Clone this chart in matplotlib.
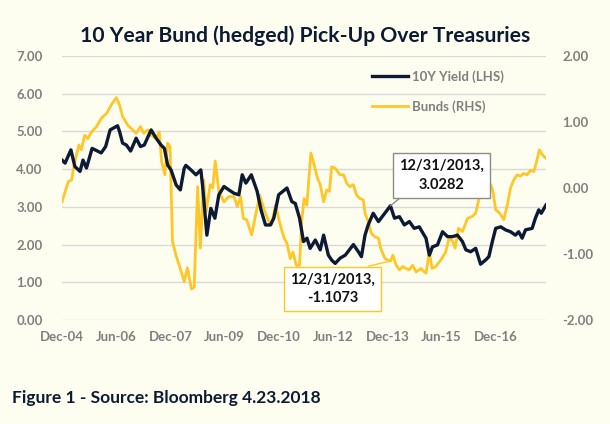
import matplotlib
matplotlib.use('Agg')
import matplotlib.pyplot as plt
import matplotlib.dates as mdates
import pandas as pd

# 10Y Treasury yield (LHS)
yield_dates = ['2004-12-01', '2005-01-01', '2005-03-01', '2005-04-10', '2005-06-01', '2005-07-01',
               '2005-08-05', '2005-10-01', '2006-01-01', '2006-02-15', '2006-04-01', '2006-06-15',
               '2006-07-05', '2006-08-05', '2006-09-12', '2006-10-25', '2006-12-20', '2007-02-01',
               '2007-03-12', '2007-05-20', '2007-07-10', '2007-08-28', '2007-10-01', '2007-11-03',
               '2007-12-07', '2008-01-28', '2008-03-10', '2008-04-18', '2008-05-05', '2008-06-25',
               '2008-08-15', '2008-10-03', '2008-10-20', '2008-12-03', '2009-01-12', '2009-02-22',
               '2009-04-03', '2009-05-25', '2009-07-13', '2009-09-03', '2009-10-22', '2009-11-25',
               '2010-01-01', '2010-02-25', '2010-04-25', '2010-06-03', '2010-07-18', '2010-09-06',
               '2010-10-10', '2010-11-28', '2011-02-20', '2011-04-10', '2011-05-15', '2011-06-27',
               '2011-08-06', '2011-09-10', '2011-10-12', '2011-12-03', '2012-01-22', '2012-02-25',
               '2012-04-13', '2012-05-16', '2012-06-21', '2012-08-10', '2012-10-01', '2012-12-22',
               '2013-02-10', '2013-03-13', '2013-04-18', '2013-05-20', '2013-07-10', '2013-09-01',
               '2013-12-31', '2014-02-10', '2014-04-01', '2014-05-20', '2014-07-10', '2014-08-28',
               '2014-10-18', '2014-12-06', '2014-12-25', '2015-01-28', '2015-03-01', '2015-04-20',
               '2015-06-10', '2015-07-31', '2015-09-18', '2015-11-08', '2015-12-28', '2016-02-01',
               '2016-03-20', '2016-05-10', '2016-06-28', '2016-08-18', '2016-09-20', '2016-10-25',
               '2016-11-28', '2017-01-18', '2017-03-07', '2017-04-27', '2017-06-15', '2017-07-18',
               '2017-08-22', '2017-09-25', '2017-12-01', '2018-01-03', '2018-02-06', '2018-03-03',
               '2018-04-20']
yield_vals = [4.24, 4.16, 4.51, 4.07, 3.94, 4.24,
              4.03, 4.55, 4.43, 4.60, 5.04, 5.15,
              5.00, 4.69, 4.64, 4.48, 4.82, 4.60,
              4.64, 5.04, 4.82, 4.64, 4.55, 4.11,
              3.98, 3.58, 3.45, 4.02, 4.10, 3.98,
              3.85, 3.98, 3.58, 2.25, 2.96, 2.70,
              3.32, 3.54, 3.45, 3.36, 3.32, 3.85,
              3.63, 3.85, 3.41, 2.92, 2.52, 2.52,
              2.70, 3.32, 3.50, 3.14, 3.09, 2.70,
              2.08, 2.17, 1.90, 2.12, 1.86, 2.25,
              1.72, 1.59, 1.50, 1.64, 1.72, 2.00,
              1.81, 1.68, 2.25, 2.52, 2.83, 2.61,
              3.0282, 2.70, 2.74, 2.52, 2.61, 2.43,
              2.47, 2.25, 2.17, 1.72, 1.94, 1.99,
              2.34, 2.21, 2.21, 2.25, 2.08, 1.86,
              1.81, 1.90, 1.48, 1.59, 1.68, 2.08,
              2.43, 2.47, 2.39, 2.34, 2.25, 2.34,
              2.17, 2.39, 2.43, 2.70, 2.92, 2.83,
              3.05]

# hedged Bund pick-up (RHS)
bund_dates = ['2004-12-01', '2005-01-01', '2005-02-03', '2005-03-07', '2005-04-10', '2005-05-20',
              '2005-06-15', '2005-07-18', '2005-08-20', '2005-09-25', '2005-11-15', '2006-01-03',
              '2006-02-25', '2006-04-12', '2006-06-03', '2006-07-05', '2006-08-06', '2006-09-27',
              '2006-11-15', '2006-12-20', '2007-02-02', '2007-03-06', '2007-04-15', '2007-05-18',
              '2007-07-08', '2007-08-10', '2007-09-03', '2007-10-06', '2007-11-02', '2007-11-27',
              '2007-12-22', '2008-01-26', '2008-02-28', '2008-04-18', '2008-05-20', '2008-07-01',
              '2008-07-28', '2008-09-01', '2008-09-28', '2008-11-01', '2008-11-25', '2009-01-06',
              '2009-02-01', '2009-02-25', '2009-04-04', '2009-05-25', '2009-07-13', '2009-09-03',
              '2009-10-06', '2009-11-09', '2009-12-06', '2010-01-09', '2010-02-28', '2010-04-09',
              '2010-05-21', '2010-07-01', '2010-08-13', '2010-09-16', '2010-10-28', '2010-12-09',
              '2011-01-18', '2011-02-20', '2011-03-25', '2011-04-21', '2011-05-25', '2011-06-27',
              '2011-07-19', '2011-08-12', '2011-09-09', '2011-10-19', '2011-11-22', '2011-12-25',
              '2012-01-22', '2012-02-25', '2012-03-28', '2012-04-24', '2012-05-16', '2012-06-21',
              '2012-08-10', '2012-09-13', '2012-10-16', '2012-11-18', '2012-12-21', '2013-01-24',
              '2013-02-27', '2013-04-01', '2013-04-18', '2013-05-20', '2013-06-22', '2013-07-27',
              '2013-09-01', '2013-09-22', '2013-11-06', '2013-12-31', '2014-01-25', '2014-02-27',
              '2014-04-01', '2014-05-04', '2014-06-06', '2014-07-09', '2014-08-12', '2014-09-15',
              '2014-11-05', '2014-12-07', '2014-12-25', '2015-01-28', '2015-02-24', '2015-04-03',
              '2015-05-24', '2015-07-12', '2015-08-15', '2015-09-18', '2015-10-15', '2015-11-18',
              '2015-12-28', '2016-02-18', '2016-04-06', '2016-05-10', '2016-06-28', '2016-08-01',
              '2016-09-06', '2016-10-09', '2016-11-01', '2016-11-28', '2017-01-07', '2017-02-18',
              '2017-03-25', '2017-04-27', '2017-05-28', '2017-07-03', '2017-08-05', '2017-09-06',
              '2017-10-12', '2017-11-15', '2017-12-18', '2018-01-10', '2018-02-12', '2018-03-15',
              '2018-04-20']
bund_vals = [-0.21, -0.06, 0.10, 0.12, 0.40, 0.65,
             0.58, 0.80, 0.75, 0.85, 0.93, 1.06,
             1.13, 1.26, 1.37, 1.26, 1.08, 0.95,
             0.88, 0.83, 0.93, 0.83, 0.88, 0.80,
             0.75, 0.85, 0.40, 0.20, 0.68, 0.63,
             -0.81, -1.02, -1.17, -1.42, -1.21, -1.53,
             -1.50, 0.02, -0.91, 0.12, -0.36, 0.05,
             0.00, 0.41, -0.06, -0.21, -0.13, -0.13,
             -0.28, -0.13, -0.46, -0.48, -0.71, -0.41,
             -0.11, -0.31, -0.48, -0.56, -0.26, -0.53,
             -0.74, -0.84, -1.07, -0.97, -1.17, -1.17,
             -0.50, -0.16, -0.26, 0.53, 0.35, 0.15,
             0.05, -0.21, -0.03, -0.05, 0.32, 0.30,
             0.20, 0.20, 0.07, 0.02, 0.05, -0.11,
             -0.16, -0.18, -0.38, -0.51, -0.69, -0.74,
             -0.76, -0.91, -1.07, -1.1073, -1.02, -1.17,
             -1.24, -1.19, -1.22, -1.24, -1.17, -1.27,
             -1.22, -1.27, -1.29, -0.97, -1.22, -1.19,
             -1.09, -0.97, -0.76, -0.80, -0.91, -0.61,
             -0.66, -0.46, -0.43, -0.38, -0.06, 0.05,
             0.07, 0.05, -0.06, -0.33, -0.38, -0.48,
             -0.26, 0.00, 0.12, 0.20, 0.18, 0.22,
             0.20, 0.27, 0.25, 0.37, 0.58, 0.50,
             0.45]

tick_dates = ['2004-12-01', '2006-06-01', '2007-12-01', '2009-06-01', '2010-12-01',
              '2012-06-01', '2013-12-01', '2015-06-01', '2016-12-01']

navy = '#0d1a33'
gold = '#ffc627'
grey = '#7f7f7f'
bg = '#fefef0'
plt.rcParams['font.family'] = ['Lato', 'DejaVu Sans']

yd = pd.to_datetime(yield_dates)
bd = pd.to_datetime(bund_dates)

fig = plt.figure(figsize=(6.1, 4.24), dpi=100, facecolor=bg)
ax = fig.add_axes([62/610, 1-320/424, (546-62)/610, (320-56)/424])
ax2 = ax.twinx()

l1, = ax.plot(yd, yield_vals, color=navy, lw=2.4, label='10Y Yield (LHS)', zorder=3)
l2, = ax2.plot(bd, bund_vals, color=gold, lw=2.0, label='Bunds (RHS)', zorder=2)
# black line above the yellow one
ax.set_zorder(ax2.get_zorder()+1)
ax.patch.set_visible(False)
ax2.patch.set_facecolor(bg)

ax.set_ylim(0, 7)
ax2.set_ylim(-2, 2)
ax.set_xlim(pd.Timestamp('2004-12-01'), pd.Timestamp('2018-04-20'))
ax.set_yticks(range(0, 8))
ax.set_yticklabels(['%.2f' % v for v in range(0, 8)])
ax2.set_yticks([-2, -1, 0, 1, 2])
ax2.set_yticklabels(['%.2f' % v for v in [-2, -1, 0, 1, 2]])
ax.set_xticks(pd.to_datetime(tick_dates))
ax.xaxis.set_major_formatter(mdates.DateFormatter('%b-%y'))

for a in (ax, ax2):
    for s in a.spines.values():
        s.set_visible(False)
    a.tick_params(length=0, labelsize=9.5, colors=grey)
    for t in a.get_xticklabels() + a.get_yticklabels():
        t.set_fontweight('bold')
ax.tick_params(axis='y', pad=14)
ax2.tick_params(axis='y', pad=12)
ax.tick_params(axis='x', pad=8)
# gridlines (left-axis steps) drawn on the back axes
for v in range(0, 8):
    ax2.axhline(-2 + v*4/7, color='#d9d9d9', lw=1, zorder=0)

leg = ax.legend(handles=[l1, l2], loc='upper left', bbox_to_anchor=(0.615, 0.99), frameon=False,
                fontsize=9.5, labelspacing=1.3, handlelength=2.8, handletextpad=0.25)
for t in leg.get_texts():
    t.set_color(grey)
    t.set_fontweight('bold')

ax.annotate('12/31/2013,\n3.0282', xy=(pd.Timestamp('2013-12-31'), 3.0282),
            xytext=(pd.Timestamp('2015-05-28'), 3.83), ha='center', va='center',
            fontsize=10.5, fontweight='bold', color='#111111', linespacing=1.45,
            bbox=dict(boxstyle='square,pad=0.4', fc='white', ec='#8c8c8c', lw=1),
            arrowprops=dict(arrowstyle='-', color='#8c8c8c', lw=1, shrinkA=0, shrinkB=0,
                            relpos=(0.1, 0.0)))
ax2.annotate('12/31/2013,\n-1.1073', xy=(pd.Timestamp('2013-12-31'), -1.1073),
             xytext=(pd.Timestamp('2012-05-25'), -1.53), ha='center', va='center',
             fontsize=10.5, fontweight='bold', color='#111111', linespacing=1.45,
             bbox=dict(boxstyle='square,pad=0.4', fc='white', ec=gold, lw=1),
             arrowprops=dict(arrowstyle='-', color=gold, lw=1, shrinkA=0, shrinkB=0,
                             relpos=(0.6, 1.0)))

fig.text(0.5, 1-36/424, '10 Year Bund (hedged) Pick-Up Over Treasuries', ha='center', va='center',
         fontsize=15.2, fontweight='bold', color=navy)
fig.text(12/610, 1-398/424, 'Figure 1 - Source: Bloomberg 4.23.2018', ha='left', va='center',
         fontsize=12.5, fontweight='bold', color=navy)

fig.savefig('out.png', dpi=100, facecolor=bg)
